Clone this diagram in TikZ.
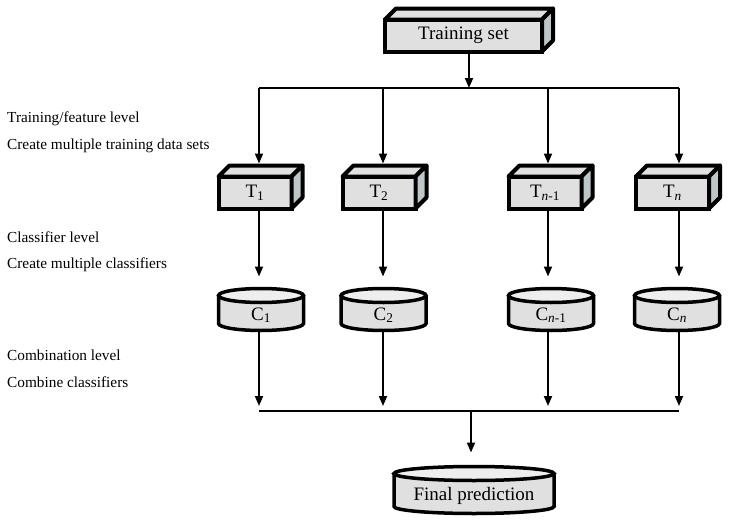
\documentclass[tikz,border=0pt]{standalone}
\usepackage{fontspec}
\setmainfont{Liberation Serif}
\usetikzlibrary{arrows.meta,calc,backgrounds}
\definecolor{boxfront}{RGB}{224,224,224}
\definecolor{boxside}{RGB}{190,199,199}
\definecolor{drumtop}{RGB}{238,238,238}
\tikzset{
  cube/.style={draw, line width=4pt, fill=boxfront, outer sep=0pt, inner sep=0pt,
    minimum width=73pt, minimum height=32pt, font=\fontsize{19}{21}\selectfont},
  face/.style={draw, line width=4pt, line join=round},
  drum/.style={outer sep=0pt, inner sep=0pt, minimum width=85pt, minimum height=28pt,
    text height=22pt, text depth=1pt, font=\fontsize{19}{21}\selectfont},
  drumline/.style={draw, line width=3.5pt},
  flow/.style={line width=1.8pt, -{Triangle[width=8pt,length=10pt]}},
  bus/.style={line width=1.9pt},
  lvl/.style={anchor=base west, inner sep=0pt, font=\fontsize{15.3}{18}\selectfont}
}

\begin{document}
\begin{tikzpicture}[x=1pt,y=-1pt]
  \useasboundingbox (0,0) rectangle (729,525);

  %%%%% level texts %%%%%
  \node[lvl] (lv1) at (7,122) {Training/feature level};
  \node[lvl] (lv2) at (7,149) {Create multiple training data sets};
  \node[lvl] (lv3) at (7,242) {Classifier level};
  \node[lvl] (lv4) at (7,268) {Create multiple classifiers};
  \node[lvl] (lv5) at (7,360) {Combination level};
  \node[lvl] (lv6) at (7,387) {Combine classifiers};

  %%%%% boxes %%%%%
  \node[cube, minimum width=157pt] (ts) at (463.5,35.5) {Training set};
  \node[cube] (t1) at (255,192.5) {T\textsubscript{1}};
  \node[cube] (t2) at (379,192.5) {T\textsubscript{2}};
  \node[cube] (tn1) at (545,192.5) {T\textsubscript{\textit{n}-1}};
  \node[cube] (tn) at (672.5,192.5) {T\textsubscript{\textit{n}}};

  \foreach \n in {ts,t1,t2,tn1,tn} {
    \draw[face, fill=boxfront] (\n.north west) -- ++(11,-11) -- ($(\n.north east)+(11,-11)$) -- (\n.north east) -- cycle;
    \draw[face, fill=boxside] (\n.north east) -- ++(11,-11) -- ($(\n.south east)+(11,-11)$) -- (\n.south east) -- cycle;
  }

  %%%%% classifiers %%%%%
  \node[drum] (c1) at (261,309.5) {C\textsubscript{1}};
  \node[drum] (c2) at (383.5,309.5) {C\textsubscript{2}};
  \node[drum] (cn1) at (551,309.5) {C\textsubscript{\textit{n}-1}};
  \node[drum] (cn) at (677,309.5) {C\textsubscript{\textit{n}}};
  \node[drum, minimum width=160pt, minimum height=33pt] (fp) at (474,490) {Final prediction};

  \begin{pgfonlayer}{background}
    \foreach \n/\r in {c1/42.5, c2/42.5, cn1/42.5, cn/42.5, fp/80} {
      \draw[drumline, fill=boxfront] (\n.north west) -- (\n.south west)
        arc[start angle=180, end angle=0, x radius=\r, y radius=7] -- (\n.north east);
      \draw[drumline, fill=drumtop] (\n.north) ellipse[x radius=\r, y radius=7];
    }
  \end{pgfonlayer}

  %%%%% buses %%%%%
  \coordinate (split) at (469,88);
  \coordinate (a1) at (259,88);
  \coordinate (a4) at (679,88);
  \coordinate (join) at (471,411);
  \coordinate (b1) at (259,411);
  \coordinate (b4) at (679,411);

  \draw[flow] ([xshift=5.5pt]ts.south) -- (split);
  \draw[bus] (a1) -- (a4);
  \draw[bus] (b1) -- (b4);
  \draw[flow] (join) -- ($(fp.north)+(-3,-21)$);

  \foreach \t/\c/\x in {t1/c1/259, t2/c2/383, tn1/cn1/548, tn/cn/679} {
    \draw[flow] (\x,88) -- ($(\t.north -| \x,0)+(0,-13)$);
    \draw[flow] (\t.south -| \x,0) -- ($(\c.north -| \x,0)+(0,-19)$);
    \draw[flow] ($(\c.south -| \x,0)+(0,7)$) -- (\x,406);
  }
\end{tikzpicture}
\end{document}
